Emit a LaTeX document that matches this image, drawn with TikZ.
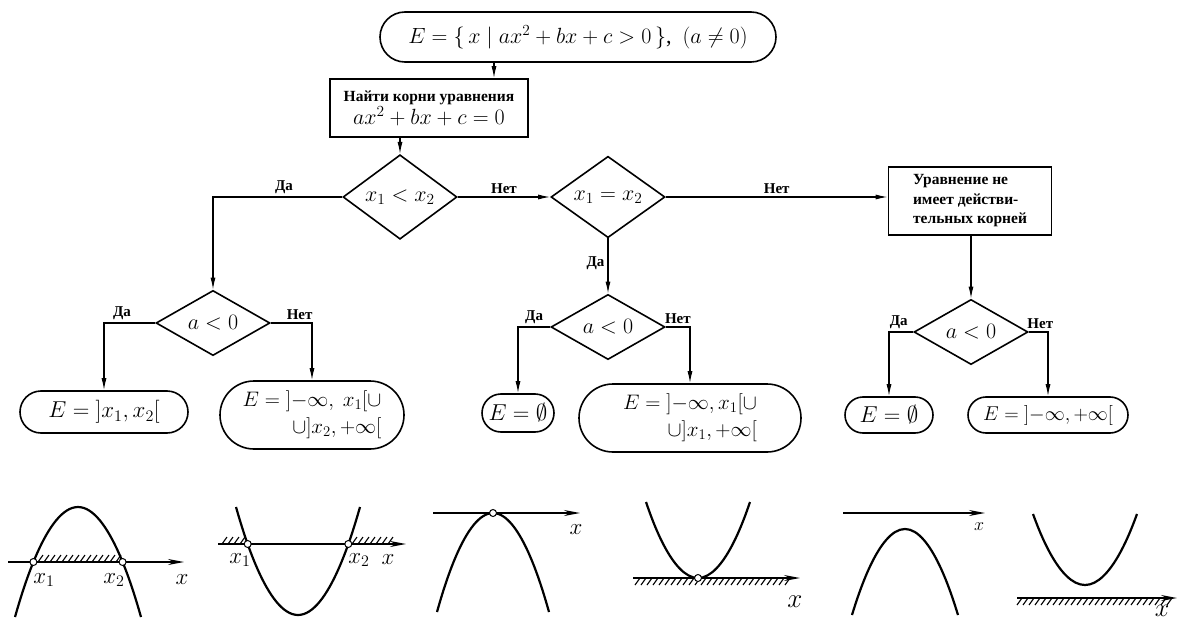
\RequirePackage{fix-cm}
\documentclass[tikz,border=0pt]{standalone}
\usepackage{fontspec}
\setmainfont{Liberation Serif}
\usetikzlibrary{shapes.geometric,shapes.misc,arrows.meta}
\tikzset{
  term/.style={rounded rectangle, draw, line width=1.6pt, inner sep=3pt, font=\fontsize{23}{27}\selectfont},
  proc/.style={rectangle, draw, line width=1.6pt, inner sep=3pt},
  test/.style={diamond, draw, line width=1.6pt, minimum width=114pt, minimum height=61pt, inner sep=0pt, font=\fontsize{22}{25}\selectfont},
  arr/.style={-{Latex[length=12pt,width=5pt]}, line width=1.2pt},
  lbl/.style={above, inner sep=3pt, font=\bfseries\fontsize{15}{17}\selectfont},
  curve/.style={line width=2.2pt},
  axis/.style={line width=1.6pt, -{Stealth[length=16pt,width=6pt]}},
  hatch/.style={line width=1.1pt},
  root/.style={circle, draw, fill=white, line width=1pt, inner sep=0pt, minimum size=7pt},
  xlab/.style={font=\fontsize{23}{25}\selectfont}
}
\begin{document}
\begin{tikzpicture}[x=1pt,y=-1pt]
\useasboundingbox (0,0) rectangle (1179,618);

\node[term, minimum width=402pt, minimum height=50pt, font=\fontsize{22}{26}\selectfont] (start) at (578,37)
  {$E=\{\,x\mid ax^2+bx+c>0\,\}$,\ \ $(a\neq0)$};
\node[proc, align=center, minimum width=198pt, minimum height=58pt] (roots) at (429,108)
  {{\bfseries\fontsize{15.5}{17}\selectfont Найти корни уравнения}\\[1pt]{\fontsize{22}{24}\selectfont$ax^2+bx+c=0$}};
\node[test] (d1) at (400,197) {$x_1<x_2$};
\node[test] (d3) at (608,197) {$x_1=x_2$};
\node[proc, align=left, minimum width=163pt, minimum height=68pt, font=\bfseries\fontsize{15.5}{19.5}\selectfont] (noroot) at (970,201)
  {Уравнение не\\имеет действи-\\тельных корней};
\node[test] (d2) at (213,323) {$a<0$};
\node[test] (d4) at (608,327) {$a<0$};
\node[test] (d5) at (971,332) {$a<0$};

\node[term, minimum width=174pt, minimum height=42pt] (p1) at (104,412) {$E={]}x_1,x_2{[}$};
\node[term, align=right, minimum width=190pt, minimum height=68pt, font=\fontsize{21}{24}\selectfont] (p2) at (312,415)
  {$E={]}{-}\infty,\ x_1{[}\cup$\\[3pt]$\cup{]}x_2,+\infty{[}$};
\node[term, minimum width=78pt, minimum height=38pt] (p3) at (518,413) {$E=\emptyset$};
\node[term, align=right, minimum width=228pt, minimum height=68pt, font=\fontsize{21}{24}\selectfont] (p4) at (690,418)
  {$E={]}{-}\infty, x_1{[}\cup$\\[3pt]$\cup{]}x_1,+\infty{[}$};
\node[term, minimum width=94pt, minimum height=36pt] (p5) at (889,415) {$E=\emptyset$};
\node[term, minimum width=166pt, minimum height=36pt, font=\fontsize{20}{24}\selectfont] (p6) at (1048,415) {$E={]}{-}\infty,+\infty{[}$};

\draw[arr] ([xshift=-84pt]start.south) -- ([xshift=-84pt]start.south |- roots.north);
\draw[arr] (roots.south -| d1.north) -- (d1.north);
\draw[arr] (d1.west) -- node[lbl, pos=0.45]{Да} (d1.west -| d2.north) -- (d2.north);
\draw[arr] (d1.east) -- node[lbl]{Нет} (d3.west);
\draw[arr] (d3.east) -- node[lbl]{Нет} (d3.east -| noroot.west);
\draw[arr] (d3.south) -- node[lbl, left, pos=0.45]{Да} (d4.north);
\draw[arr] (noroot.south -| d5.north) -- (d5.north);
\draw[arr] (d2.west) -- node[lbl, pos=0.65]{Да} (d2.west -| p1.north) -- (p1.north);
\draw[arr] (d2.east) -- node[lbl, pos=0.7]{Нет} (d2.east -| p2.north) -- (p2.north);
\draw[arr] (d4.west) -- node[lbl]{Да} (d4.west -| p3.north) -- (p3.north);
\draw[arr] (d4.east) -- node[lbl]{Нет} (d4.east -| p4.north) -- (p4.north);
\draw[arr] (d5.west) -- node[lbl, pos=0.6]{Да} (d5.west -| p5.north) -- (p5.north);
\draw[arr] (d5.east) -- node[lbl, pos=0.6]{Нет} (d5.east -| p6.north) -- (p6.north);

\draw[axis] (8,562) -- (184,562);
\foreach \x in {38,44,...,118} \draw[hatch] (\x,562) -- ++(5,-7);
\draw[curve] (15,617) parabola bend (78,507) (141,617);
\node[root] (r1a) at (33.4,562) {};
\node[root] (r1b) at (122.6,562) {};
\node[xlab] (l1a) at (44,580) {$x_1$};
\node[xlab] (l1b) at (114,580) {$x_2$};
\node[xlab] (l1x) at (182,580) {$x$};

\draw[axis] (218,544) -- (406,544);
\foreach \x in {222,228,...,242} \draw[hatch] (\x,544) -- ++(5,-7);
\foreach \x in {352,358,...,392} \draw[hatch] (\x,544) -- ++(5,-7);
\draw[curve] (236,507) parabola bend (298,615) (360,507);
\node[root] (r2a) at (247.7,544) {};
\node[root] (r2b) at (348.3,544) {};
\node[xlab] (l2a) at (240,560) {$x_1$};
\node[xlab] (l2b) at (359,560) {$x_2$};
\node[xlab] (l2x) at (388,560) {$x$};

\draw[axis] (433,513) -- (580,513);
\draw[curve] (437,612) parabola bend (493,513) (549,612);
\node[root] (r3) at (493,513) {};
\node[xlab] (l3x) at (576,530) {$x$};

\draw[axis] (633,578) -- (800,578);
\foreach \x in {640,646,...,794} \draw[hatch] (\x,578) -- ++(-5,7);
\draw[curve] (646,502) parabola bend (698,578) (750,502);
\node[root] (r4) at (698,578) {};
\node[xlab, font=\fontsize{27}{29}\selectfont] (l4x) at (795,602) {$x$};

\draw[axis] (843,513) -- (985,513);
\draw[curve] (852,615) parabola bend (905,529) (958,615);
\node[xlab, font=\fontsize{18}{20}\selectfont] (l5x) at (979,527) {$x$};

\draw[axis] (1017,598) -- (1177,598);
\foreach \x in {1022,1028,...,1172} \draw[hatch] (\x,598) -- ++(-5,7);
\draw[curve] (1033,514) parabola bend (1085,585) (1137,514);
\node[xlab, font=\fontsize{26}{28}\selectfont] (l6x) at (1162,611) {$x$};
\end{tikzpicture}
\end{document}
